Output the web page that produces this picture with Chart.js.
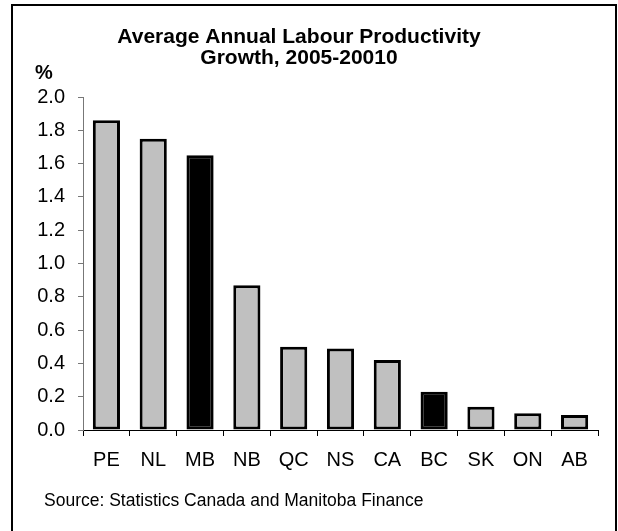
<!DOCTYPE html>
<html lang="en">
<head>
    <meta charset="UTF-8">
    <title>Average Annual Labour Productivity Growth</title>
    <script src="https://cdn.jsdelivr.net/npm/chart.js"></script>
    <style>
        body {
    margin: 0;
    background-color: #fff;
    overflow: hidden;
    font-family: "Liberation Sans", Arial, sans-serif;
}

#frame {
    position: absolute;
    left: 11px;
    top: 4px;
    width: 606px;
    height: 600px;
    box-sizing: border-box;
    border: 2px solid #000;
}

#unit {
    position: absolute;
    left: 35px;
    top: 61px;
    font-size: 20px;
    font-weight: bold;
    line-height: 22px;
}

#source {
    position: absolute;
    left: 44px;
    top: 490px;
    font-size: 17.5px;
    line-height: 20px;
}

canvas {
    position: absolute;
    left: 0;
    top: 0;
}
    </style>
</head>
<body>

<div id="frame"></div>
<canvas id="prodChart" width="618" height="531"></canvas>
<div id="unit">%</div>
<div id="source">Source: Statistics Canada and Manitoba Finance</div>

<script>
    var provinces = ['PE', 'NL', 'MB', 'NB', 'QC', 'NS', 'CA', 'BC', 'SK', 'ON', 'AB'];
    var growth = [1.86, 1.75, 1.65, 0.87, 0.50, 0.49, 0.42, 0.23, 0.14, 0.10, 0.09];
    var highlighted = ['MB', 'BC'];
    var titleLines = ['Average Annual Labour Productivity', 'Growth, 2005-20010'];

    var fontFamily = '"Liberation Sans", Arial, sans-serif';

    // black for Manitoba and BC, grey for the rest
    var fills = provinces.map(function (p) {
        return highlighted.indexOf(p) >= 0 ? '#000000' : '#c0c0c0';
    });

    var ctx = document.getElementById('prodChart').getContext('2d');
    var myChart = new Chart(ctx, {
        type: 'bar',
        data: {
            labels: provinces,
            datasets: [{
                data: growth,
                backgroundColor: fills,
                borderColor: '#000000',
                borderWidth: 3,
                borderSkipped: false,
                barPercentage: 0.58,
                categoryPercentage: 1.0
            }]
        },
        options: {
            responsive: false,
            animation: false,
            layout: {
                padding: { left: 0, right: 20, top: 17, bottom: 0 }
            },
            plugins: {
                legend: { display: false },
                tooltip: { enabled: false },
                title: {
                    display: true,
                    text: titleLines,
                    color: '#000',
                    font: { family: fontFamily, size: 21, weight: 'bold', lineHeight: 1.0 },
                    padding: { top: 9.5, bottom: 28.5 }
                }
            },
            scales: {
                x: {
                    afterFit: function (scale) { scale.height = 101; },
                    grid: {
                        offset: true,
                        drawOnChartArea: false,
                        tickLength: 6,
                        color: '#000'
                    },
                    border: { color: '#000', width: 1 },
                    ticks: {
                        color: '#000',
                        padding: 12,
                        font: { family: fontFamily, size: 20 }
                    }
                },
                y: {
                    min: 0,
                    max: 2,
                    afterFit: function (scale) { scale.width = 83; },
                    grid: {
                        drawOnChartArea: false,
                        tickLength: 5,
                        color: '#777'
                    },
                    border: { color: '#777', width: 1 },
                    ticks: {
                        stepSize: 0.2,
                        color: '#000',
                        padding: 13,
                        font: { family: fontFamily, size: 20 },
                        callback: function (v) { return v.toFixed(1); }
                    }
                }
            }
        }
    });
</script>

</body>
</html>
